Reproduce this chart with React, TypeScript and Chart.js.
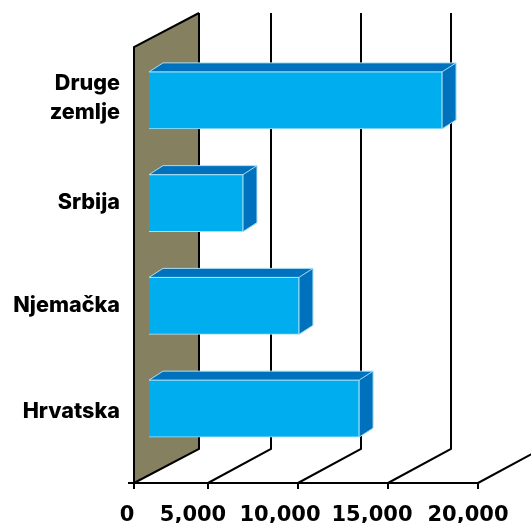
import React, { useEffect, useRef } from "react";
import { Chart, registerables } from "chart.js";

Chart.register(...registerables);

const categories = [["Druge", "zemlje"], "Srbija", "Njemačka", "Hrvatska"];
const values = [17170, 6110, 9220, 12560];
const axisMin = 889;
const axisMax = 20000;
const tickValues = [axisMin, 5000, 10000, 15000, 20000];
const tickLabels = ["0", "5,000", "10,000", "15,000", "20,000"];
const labelShift = [-22, -30, -33, -31, -25];
const categoryLabelShift = [-2, -1, 0, 3];

const FRONT_COLOR = "#00AEEF";
const FACE_COLOR = "#0071BC";
const EDGE_COLOR = "#A6DFF5";
const WALL_COLOR = "#858160";
const LINE_COLOR = "#000000";

const threeD = {
  id: "threeD",
  afterLayout(chart: any) {
    chart.scales.x.getLabelItems(chart.chartArea).forEach((item: any, i: number) => {
      const [x, y] = item.options.translation;
      item.options.translation = [x + labelShift[i], y];
    });
    chart.scales.y.getLabelItems(chart.chartArea).forEach((item: any, i: number) => {
      const [x, y] = item.options.translation;
      item.options.translation = [x, y + categoryLabelShift[i]];
    });
  },
  beforeDatasetsDraw(chart: any) {
    const { ctx, scales } = chart;
    const x = scales.x;
    const floorY = chart.chartArea.bottom + 23;
    const planeX = -15;
    const dx = 64;
    const dy = -34;
    const wallHeight = 436;
    const left = x.getPixelForValue(axisMin) + planeX;

    ctx.save();
    ctx.fillStyle = WALL_COLOR;
    ctx.beginPath();
    ctx.moveTo(left, floorY);
    ctx.lineTo(left, floorY - wallHeight);
    ctx.lineTo(left + dx + 1, floorY - wallHeight + dy);
    ctx.lineTo(left + dx + 1, floorY + dy);
    ctx.closePath();
    ctx.fill();

    ctx.strokeStyle = LINE_COLOR;
    ctx.lineWidth = 2;
    ctx.beginPath();
    ctx.moveTo(left, floorY);
    ctx.lineTo(left, floorY - wallHeight);
    ctx.lineTo(left + dx + 1, floorY - wallHeight + dy);
    ctx.stroke();

    tickValues.forEach((v) => {
      const px = x.getPixelForValue(v) + planeX;
      const back = px + dx - (v === axisMin ? -1 : 1);
      ctx.beginPath();
      ctx.moveTo(px, floorY);
      ctx.lineTo(back, floorY + dy);
      ctx.lineTo(back, floorY + dy - wallHeight);
      ctx.stroke();
      ctx.beginPath();
      ctx.moveTo(px, floorY);
      ctx.lineTo(px, floorY + 6);
      ctx.stroke();
    });

    ctx.beginPath();
    ctx.moveTo(left - 6, floorY);
    ctx.lineTo(x.getPixelForValue(axisMax) + planeX, floorY);
    ctx.stroke();

    const ox = 14;
    const oy = -9;
    chart.getDatasetMeta(0).data.forEach((bar: any) => {
      const top = bar.y - bar.height / 2;
      const bottom = bar.y + bar.height / 2;
      ctx.fillStyle = FACE_COLOR;
      ctx.strokeStyle = EDGE_COLOR;
      ctx.lineWidth = 1;
      ctx.beginPath();
      ctx.moveTo(bar.base, top);
      ctx.lineTo(bar.base + ox, top + oy);
      ctx.lineTo(bar.x + ox, top + oy);
      ctx.lineTo(bar.x + ox, bottom + oy);
      ctx.lineTo(bar.x, bottom);
      ctx.lineTo(bar.x, top);
      ctx.closePath();
      ctx.fill();
      ctx.stroke();
      ctx.beginPath();
      ctx.moveTo(bar.x, top);
      ctx.lineTo(bar.x + ox, top + oy);
      ctx.stroke();
    });
    ctx.restore();
  },
};

export default function App() {
  const ref = useRef<HTMLCanvasElement>(null);

  useEffect(() => {
    const chart = new Chart(ref.current!, {
      type: "bar",
      data: {
        labels: categories as any,
        datasets: [
          {
            data: values,
            base: axisMin,
            clip: false,
            backgroundColor: FRONT_COLOR,
            borderColor: EDGE_COLOR,
            borderWidth: 1,
            barThickness: 57,
          },
        ],
      },
      options: {
        indexAxis: "y",
        animation: false,
        responsive: false,
        layout: { padding: { top: 49, right: 38, left: 0, bottom: 0 } },
        plugins: { legend: { display: false }, tooltip: { enabled: false } },
        scales: {
          x: {
            type: "linear",
            min: axisMin,
            max: axisMax,
            afterBuildTicks(scale: any) {
              scale.ticks = tickValues.map((value) => ({ value }));
            },
            afterFit(scale: any) {
              scale.height = 63;
              scale.paddingLeft = 0;
              scale.paddingRight = 0;
            },
            grid: { display: false, drawTicks: false },
            border: { display: false },
            ticks: {
              autoSkip: false,
              maxRotation: 0,
              minRotation: 0,
              padding: 43,
              color: "#000000",
              font: { family: "DejaVu Sans", size: 21, weight: "bold" },
              callback: (_v: any, i: number) => tickLabels[i],
            },
          },
          y: {
            type: "category",
            afterFit(scale: any) {
              scale.width = 149;
            },
            grid: { display: false, drawTicks: false },
            border: { display: false },
            ticks: {
              autoSkip: false,
              padding: 29,
              color: "#000000",
              font: { family: "Inter", size: 21.6, weight: "800", lineHeight: 1.34 },
            },
          },
        },
      } as any,
      plugins: [threeD],
    });
    return () => chart.destroy();
  }, []);

  return (
    <canvas
      ref={ref}
      width={531}
      height={523}
      style={{ position: "absolute", left: 0, top: 0, display: "block" }}
    />
  );
}
